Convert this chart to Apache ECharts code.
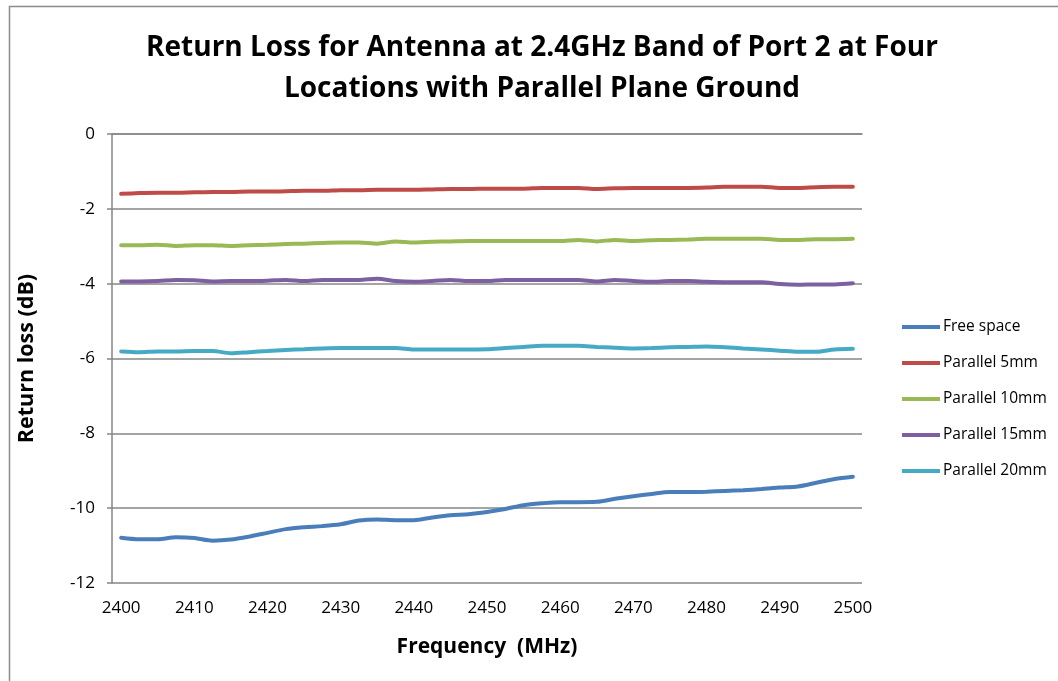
<!DOCTYPE html>
<html>
<head>
<meta charset="utf-8">
<script src="https://cdn.jsdelivr.net/npm/echarts@6/dist/echarts.min.js"></script>
<style>
html,body{margin:0;padding:0;background:#fff;}
#chart{width:1058px;height:681px;}
</style>
</head>
<body>
<div id="chart"></div>
<script>
const frequencies = [
  '2400','2402.5','2405','2407.5','2410','2412.5','2415','2417.5','2420','2422.5',
  '2425','2427.5','2430','2432.5','2435','2437.5','2440','2442.5','2445','2447.5',
  '2450','2452.5','2455','2457.5','2460','2462.5','2465','2467.5','2470','2472.5',
  '2475','2477.5','2480','2482.5','2485','2487.5','2490','2492.5','2495','2497.5','2500'
];
const seriesNames = ['Free space','Parallel 5mm','Parallel 10mm','Parallel 15mm','Parallel 20mm'];
const freeSpace = [
  -10.79,-10.83,-10.83,-10.78,-10.80,-10.87,-10.84,-10.76,-10.66,-10.56,
  -10.51,-10.48,-10.43,-10.33,-10.30,-10.32,-10.32,-10.25,-10.19,-10.16,
  -10.10,-10.02,-9.92,-9.87,-9.84,-9.84,-9.83,-9.75,-9.68,-9.62,
  -9.57,-9.57,-9.56,-9.54,-9.52,-9.49,-9.45,-9.42,-9.32,-9.22,-9.16
];
const parallel5 = [
  -1.60,-1.58,-1.57,-1.57,-1.56,-1.55,-1.55,-1.54,-1.54,-1.53,
  -1.52,-1.52,-1.50,-1.50,-1.49,-1.49,-1.49,-1.48,-1.47,-1.47,
  -1.46,-1.46,-1.46,-1.44,-1.44,-1.44,-1.47,-1.45,-1.44,-1.44,
  -1.44,-1.44,-1.43,-1.41,-1.41,-1.41,-1.44,-1.44,-1.42,-1.41,-1.41
];
const parallel10 = [
  -2.97,-2.97,-2.96,-2.99,-2.97,-2.97,-2.99,-2.97,-2.96,-2.94,
  -2.93,-2.91,-2.90,-2.90,-2.93,-2.87,-2.90,-2.88,-2.87,-2.86,
  -2.86,-2.86,-2.86,-2.86,-2.86,-2.83,-2.87,-2.83,-2.86,-2.84,
  -2.83,-2.82,-2.80,-2.80,-2.80,-2.80,-2.83,-2.83,-2.81,-2.81,-2.80
];
const parallel15 = [
  -3.94,-3.94,-3.93,-3.90,-3.91,-3.94,-3.93,-3.93,-3.92,-3.90,
  -3.93,-3.90,-3.90,-3.90,-3.87,-3.93,-3.95,-3.93,-3.90,-3.93,
  -3.93,-3.90,-3.90,-3.90,-3.90,-3.90,-3.94,-3.90,-3.93,-3.95,
  -3.93,-3.93,-3.95,-3.96,-3.96,-3.96,-4.01,-4.03,-4.02,-4.02,-3.99
];
const parallel20 = [
  -5.81,-5.83,-5.81,-5.81,-5.80,-5.80,-5.86,-5.83,-5.80,-5.77,
  -5.75,-5.73,-5.72,-5.72,-5.72,-5.72,-5.76,-5.76,-5.76,-5.76,
  -5.75,-5.72,-5.69,-5.66,-5.66,-5.66,-5.69,-5.71,-5.73,-5.72,
  -5.70,-5.69,-5.68,-5.70,-5.73,-5.76,-5.79,-5.82,-5.82,-5.76,-5.74
];
const seriesValues = [freeSpace, parallel5, parallel10, parallel15, parallel20];
const colors = ['#4A7EBB','#BE4B48','#98B954','#7D60A0','#46AAC5'];
const FONT = '"Open Sans", sans-serif';

const chart = echarts.init(document.getElementById('chart'), null, {renderer:'canvas'});
chart.setOption({
  animation: false,
  backgroundColor: '#ffffff',
  color: colors,
  graphic: [{
    type: 'rect', silent: true,
    shape: {x: 9.5, y: 6.5, width: 1200, height: 800},
    style: {fill: 'none', stroke: '#8c8c8c', lineWidth: 1.5}
  }],
  title: {
    text: 'Return Loss for Antenna at 2.4GHz Band of Port 2 at Four\nLocations with Parallel Plane Ground',
    left: 537, top: 23, textAlign: 'center',
    textStyle: {fontFamily: FONT, fontSize: 28, fontWeight: 'bold', color: '#000', lineHeight: 41}
  },
  legend: {
    orient: 'vertical', left: 897, top: 314,
    icon: 'rect', itemWidth: 38, itemHeight: 4, itemGap: 20,
    textStyle: {fontFamily: FONT, fontSize: 15.5, color: '#000', padding: [0,0,0,-2]},
    data: seriesNames
  },
  grid: {left: 112, right: 196, top: 134, bottom: 98, containLabel: false},
  xAxis: {
    type: 'category', data: frequencies, boundaryGap: true,
    name: 'Frequency  (MHz)', nameLocation: 'middle', nameGap: 54,
    nameTextStyle: {fontFamily: FONT, fontSize: 21, fontWeight: 'bold', color: '#000'},
    axisLine: {lineStyle: {color: '#868686', width: 1.5}},
    axisTick: {show: false},
    axisLabel: {interval: 3, margin: 17, fontFamily: FONT, fontSize: 17, color: '#000'},
    splitLine: {show: false}
  },
  yAxis: {
    type: 'value', min: -12, max: 0, interval: 2,
    name: 'Return loss (dB)', nameLocation: 'middle', nameGap: 74, nameRotate: 90,
    nameTextStyle: {fontFamily: FONT, fontSize: 21.5, fontWeight: 'bold', color: '#000'},
    axisLine: {show: true, lineStyle: {color: '#868686', width: 1.5}},
    axisTick: {show: true, length: 5, lineStyle: {color: '#868686', width: 1.5}},
    axisLabel: {margin: 17, fontFamily: FONT, fontSize: 17, color: '#000'},
    splitLine: {show: true, lineStyle: {color: '#868686', width: 1.5}}
  },
  series: seriesNames.map((n, i) => ({
    name: n, type: 'line', data: seriesValues[i],
    symbol: 'none', smooth: 0.3,
    lineStyle: {width: 4, color: colors[i], cap: 'round'},
    itemStyle: {color: colors[i]}
  }))
});
</script>
</body>
</html>
